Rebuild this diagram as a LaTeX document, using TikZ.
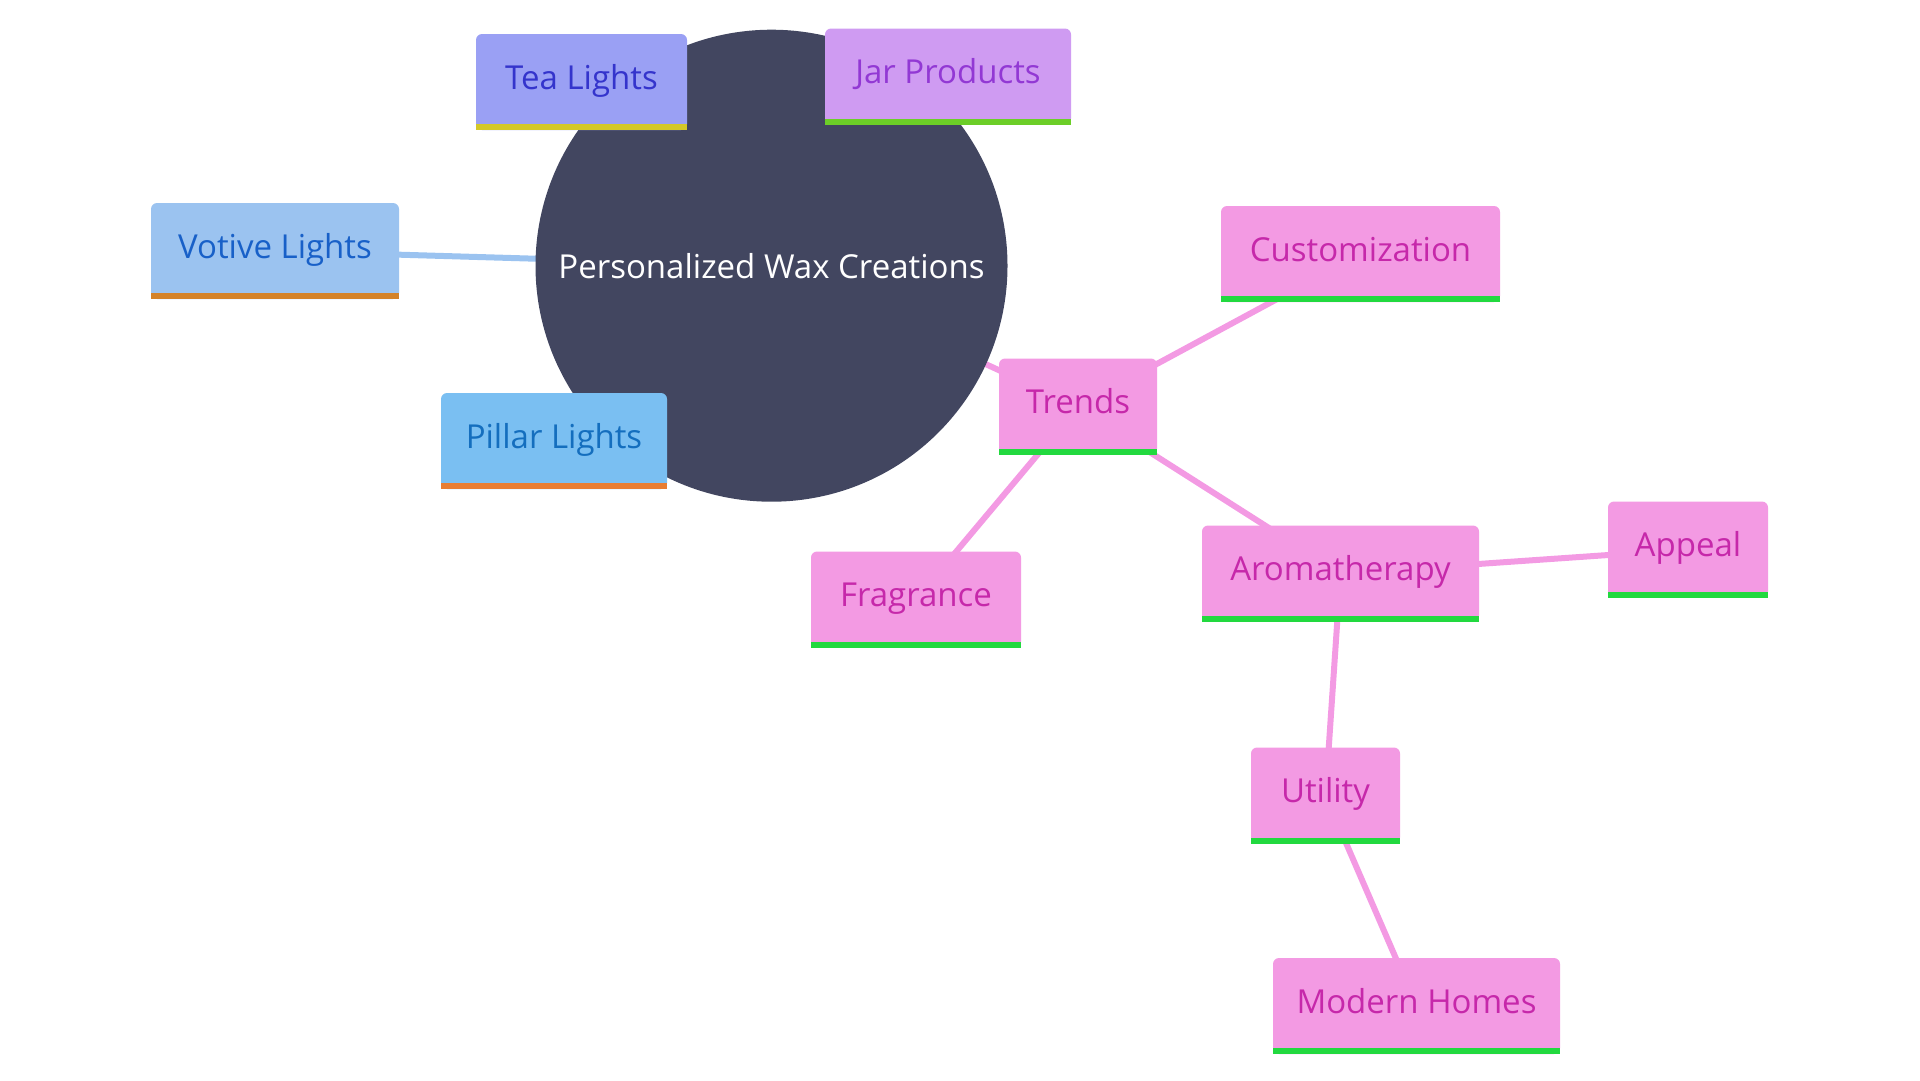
\documentclass[tikz,border=0pt]{standalone}
\usepackage{fontspec}
\setmainfont{Open Sans}
\usetikzlibrary{backgrounds}

\definecolor{hubfill}{RGB}{66,70,96}
\definecolor{teafill}{RGB}{154,160,244}
\definecolor{teatext}{RGB}{52,52,204}
\definecolor{teabar}{RGB}{212,200,40}
\definecolor{jarfill}{RGB}{207,155,242}
\definecolor{jartext}{RGB}{146,56,212}
\definecolor{jarbar}{RGB}{108,206,40}
\definecolor{votivefill}{RGB}{155,195,240}
\definecolor{votivetext}{RGB}{24,96,200}
\definecolor{votivebar}{RGB}{212,130,40}
\definecolor{pillarfill}{RGB}{122,191,242}
\definecolor{pillartext}{RGB}{20,110,190}
\definecolor{pillarbar}{RGB}{232,125,50}
\definecolor{pinkfill}{RGB}{243,154,227}
\definecolor{pinktext}{RGB}{198,40,170}
\definecolor{pinkbar}{RGB}{34,217,63}

\begin{document}
\begin{tikzpicture}[x=1pt,y=-1pt,
  leaf/.style={rectangle,rounded corners=6pt,inner sep=0pt,text height=55pt,text depth=41pt,font=\fontsize{33}{38}\selectfont},
  pinkleaf/.style={leaf,fill=pinkfill,text=pinktext},
  link/.style={line width=6pt}]
\useasboundingbox (0,0) rectangle (1920,1080);
\node (hub) at (771.5,265.7) [circle,fill=hubfill,text=white,minimum size=472pt,inner sep=0pt,font=\fontsize{33}{38}\selectfont] {Personalized Wax Creations};
\node (tea)     at (581.5,82)    [leaf,fill=teafill,text=teatext,minimum width=211pt] {Tea Lights};
\node (jar)     at (948,76.5)    [leaf,fill=jarfill,text=jartext,minimum width=246pt] {Jar Products};
\node (votive)  at (275,251)     [leaf,fill=votivefill,text=votivetext,minimum width=248pt] {Votive Lights};
\node (pillar)  at (554,441)     [leaf,fill=pillarfill,text=pillartext,minimum width=226pt] {Pillar Lights};
\node (custom)  at (1360.5,254)  [pinkleaf,minimum width=279pt] {Customization};
\node (trends)  at (1078,406.5)  [pinkleaf,minimum width=158pt] {Trends};
\node (frag)    at (916,599.5)   [pinkleaf,minimum width=210pt] {Fragrance};
\node (aroma)   at (1340.5,573.5) [pinkleaf,minimum width=277pt] {Aromatherapy};
\node (appeal)  at (1688,549.5)  [pinkleaf,minimum width=160pt] {Appeal};
\node (utility) at (1325.5,795.5) [pinkleaf,minimum width=149pt] {Utility};
\node (homes)   at (1416.5,1006) [pinkleaf,minimum width=287pt] {Modern Homes};
% bottom bars
\foreach \n/\c in {tea/teabar,jar/jarbar,votive/votivebar,pillar/pillarbar,custom/pinkbar,trends/pinkbar,frag/pinkbar,aroma/pinkbar,appeal/pinkbar,utility/pinkbar,homes/pinkbar}
  \fill [\c] (\n.south west) rectangle ([yshift=6pt]\n.south east);
\begin{scope}[on background layer]
\draw [link,teafill]    (hub.center) -- (tea.center);
\draw [link,jarfill]    (hub.center) -- (jar.center);
\draw [link,votivefill] (hub.center) -- (votive.center);
\draw [link,pillarfill] (hub.center) -- (pillar.center);
\draw [link,pinkfill]   (hub.center) -- (trends.center);
\draw [link,pinkfill]   (trends.center) -- (custom.center);
\draw [link,pinkfill]   (trends.center) -- (frag.center);
\draw [link,pinkfill]   (trends.center) -- (aroma.center);
\draw [link,pinkfill]   (aroma.center) -- (appeal.center);
\draw [link,pinkfill]   (aroma.center) -- (utility.center);
\draw [link,pinkfill]   (utility.center) -- (homes.center);
\end{scope}
\end{tikzpicture}
\end{document}
